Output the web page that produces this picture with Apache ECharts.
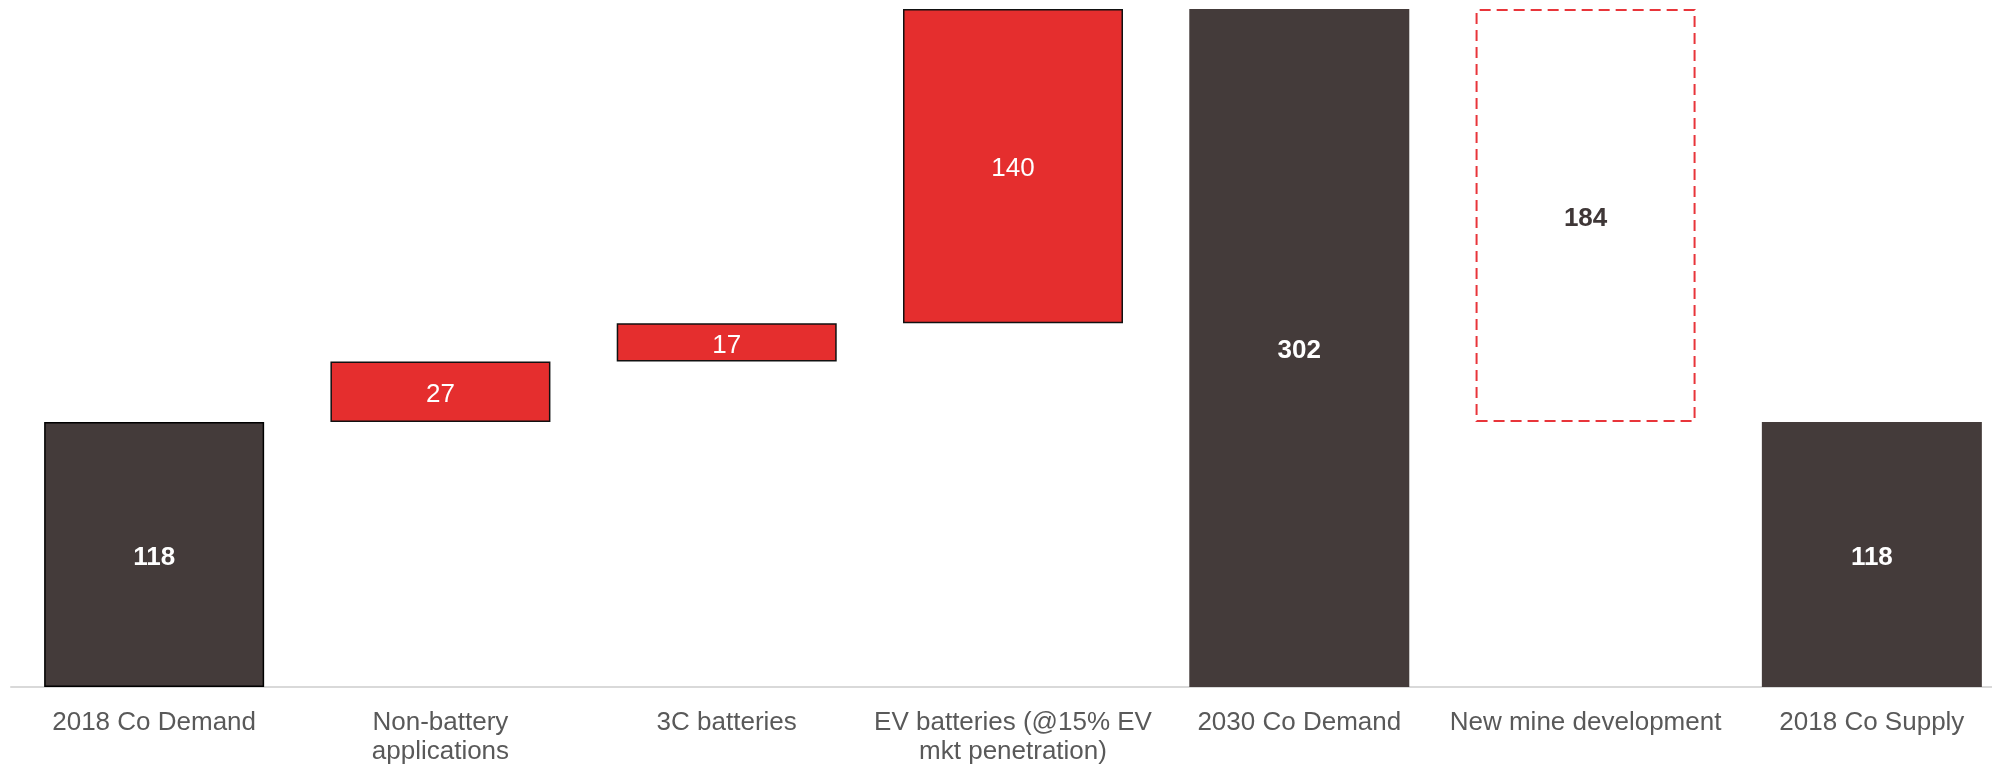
<!DOCTYPE html>
<html>
<head>
<meta charset="utf-8">
<script src="https://cdn.jsdelivr.net/npm/echarts@6/dist/echarts.min.js"></script>
<style>
html,body{margin:0;padding:0;background:#fff;}
#chart{width:1992px;height:765px;}
</style>
</head>
<body>
<div id="chart"></div>
<script>
var categories = ['2018 Co Demand', 'Non-battery\napplications', '3C batteries', 'EV batteries (@15% EV\nmkt penetration)', '2030 Co Demand', 'New mine development', '2018 Co Supply'];
var baseValues = [0, 118, 145, 162, 0, 118, 0];
var deltaValues = [118, 27, 17, 140, 302, 184, 118];
var barKinds = ['total', 'increase', 'increase', 'increase', 'total', 'gap', 'total'];

var DARK = '#443b3a';
var RED = '#e52e2e';

var visibleData = deltaValues.map(function (v, i) {
  var kind = barKinds[i];
  var item = { value: v };
  if (kind === 'total') {
    item.itemStyle = { color: DARK, borderColor: (i === 0) ? '#000' : DARK, borderWidth: (i === 0) ? 1.5 : 0 };
    item.label = { color: '#fff', fontWeight: 'bold' };
  } else if (kind === 'increase') {
    item.itemStyle = { color: RED, borderColor: '#111', borderWidth: 1.5 };
    item.label = { color: '#fff', fontWeight: 'normal' };
  } else {
    item.itemStyle = { color: 'rgba(0,0,0,0)', borderColor: '#e8353a', borderWidth: 2, borderType: [11, 6] };
    item.label = { color: '#3f3737', fontWeight: 'bold' };
  }
  return item;
});

var chart = echarts.init(document.getElementById('chart'), null, { renderer: 'canvas' });
chart.setOption({
  animation: false,
  textStyle: { fontFamily: 'Liberation Sans, Arial, sans-serif' },
  grid: { left: 11, top: 9, width: 2004, bottom: 78, containLabel: false, outerBoundsMode: 'none' },
  xAxis: {
    type: 'category',
    data: categories,
    axisLine: { show: true, lineStyle: { color: '#d9d9d9', width: 2 } },
    axisTick: { show: false },
    axisLabel: {
      interval: 0,
      color: '#595959',
      fontSize: 26,
      lineHeight: 29,
      margin: 21,
      fontFamily: 'Liberation Sans, Arial, sans-serif'
    }
  },
  yAxis: {
    type: 'value',
    min: 0,
    max: 302,
    show: false,
    splitLine: { show: false }
  },
  series: [
    {
      type: 'bar',
      stack: 'w',
      data: baseValues,
      barWidth: 220,
      itemStyle: { color: 'rgba(0,0,0,0)' },
      emphasis: { disabled: true },
      silent: true
    },
    {
      type: 'bar',
      stack: 'w',
      data: visibleData,
      barWidth: 220,
      label: {
        show: true,
        position: 'inside',
        offset: [0, 3],
        fontSize: 26,
        fontFamily: 'Liberation Sans, Arial, sans-serif'
      }
    }
  ]
});
</script>
</body>
</html>
